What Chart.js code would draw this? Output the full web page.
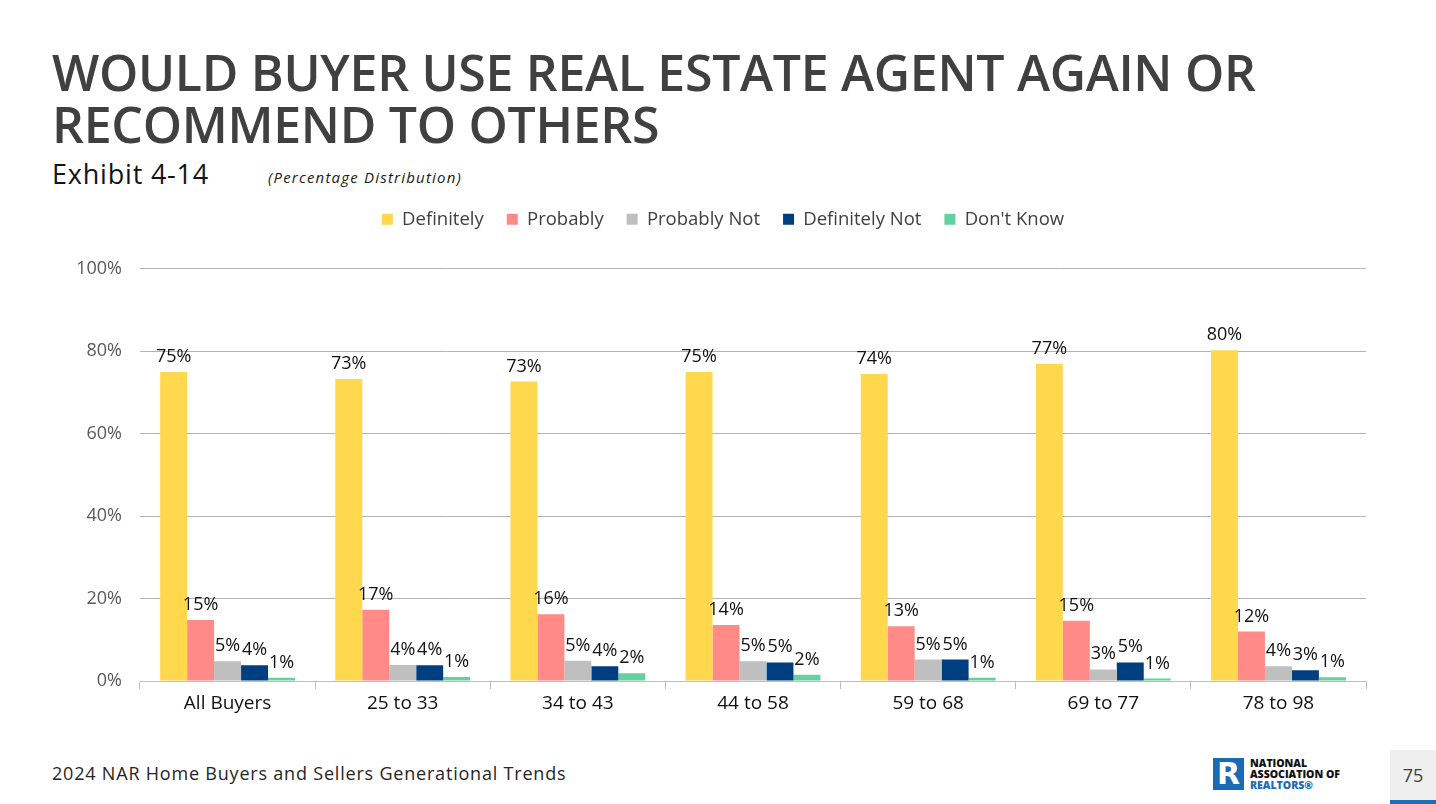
<!DOCTYPE html>
<html>
<head>
<meta charset="utf-8">
<script src="https://cdn.jsdelivr.net/npm/chart.js@4.4.1/dist/chart.umd.min.js"></script>
<style>
  html, body { margin: 0; padding: 0; background: #fff; }
  body { width: 1436px; height: 804px; position: relative; overflow: hidden; font-family: "Open Sans", "DejaVu Sans", sans-serif; }
  #title { position: absolute; left: 52px; top: 46px; font-size: 50px; font-weight: 600; color: #404040; line-height: 52px; letter-spacing: -0.3px; white-space: nowrap; }
  #exhibit { position: absolute; left: 52px; top: 155px; font-size: 27px; color: #141414; letter-spacing: 0.8px; white-space: nowrap; }
  #sub { position: absolute; left: 268px; top: 167px; font-size: 15px; font-style: italic; color: #1a1a1a; letter-spacing: 1.2px; white-space: nowrap; }
  #chartWrap { position: absolute; left: 0; top: 187px; width: 1436px; height: 543px; }
  #footer { position: absolute; left: 52px; top: 761px; font-size: 18px; color: #262626; letter-spacing: 0.8px; white-space: nowrap; }
  #pageBox { position: absolute; left: 1390px; top: 750px; width: 46px; height: 54px; background: #efefef; }
  #pageNum { position: absolute; left: 0; width: 46px; top: 13px; text-align: center; font-size: 18px; color: #404040; }
  #pageBar { position: absolute; left: 0; bottom: 0; width: 46px; height: 4px; background: #1f6fb8; }
  #logo { position: absolute; left: 1213px; top: 758px; width: 31px; height: 32px; background: #1a6bb6; color: #fff; font-weight: 700; font-size: 30px; line-height: 32px; text-align: center; font-family: "DejaVu Sans", sans-serif; }
  #logoText { position: absolute; left: 1250px; top: 758px; font-size: 10.5px; font-weight: 800; line-height: 11px; color: #111; font-family: "Open Sans", sans-serif; }
  #logoText span { color: #1a6bb6; }
</style>
</head>
<body>
<div id="title">WOULD BUYER USE REAL ESTATE AGENT AGAIN OR<br>RECOMMEND TO OTHERS</div>
<div id="exhibit">Exhibit 4-14</div>
<div id="sub">(Percentage Distribution)</div>
<div id="chartWrap"><canvas id="c"></canvas></div>
<div id="footer">2024 NAR Home Buyers and Sellers Generational Trends</div>
<div id="logo">R</div>
<div id="logoText">NATIONAL<br>ASSOCIATION OF<br><span>REALTORS®</span></div>
<div id="pageBox"><div id="pageNum">75</div><div id="pageBar"></div></div>
<script>
const categories = ["All Buyers", "25 to 33", "34 to 43", "44 to 58", "59 to 68", "69 to 77", "78 to 98"];
const seriesNames = ["Definitely", "Probably", "Probably Not", "Definitely Not", "Don't Know"];
const definitely = [74.9, 73.2, 72.6, 74.9, 74.4, 76.9, 80.2];
const probably = [14.8, 17.3, 16.2, 13.6, 13.3, 14.6, 12.0];
const probablyNot = [4.8, 3.9, 4.9, 4.8, 5.2, 2.8, 3.6];
const definitelyNot = [3.8, 3.8, 3.6, 4.5, 5.2, 4.5, 2.6];
const dontKnow = [0.8, 1.0, 1.9, 1.5, 0.8, 0.6, 0.9];
const yTicks = [0, 20, 40, 60, 80, 100];
const colors = ["#FFD84D", "#FF8A87", "#BFBFBF", "#003F7F", "#63D29E"];

const seriesValues = [definitely, probably, probablyNot, definitelyNot, dontKnow];

const labelPlugin = {
  id: 'barLabels',
  afterDatasetsDraw(chart) {
    const ctx = chart.ctx;
    ctx.save();
    ctx.font = '500 18px "Open Sans", sans-serif';
    ctx.fillStyle = '#111';
    ctx.textAlign = 'center';
    ctx.textBaseline = 'alphabetic';
    chart.data.datasets.forEach((ds, i) => {
      const meta = chart.getDatasetMeta(i);
      meta.data.forEach((bar, j) => {
        ctx.fillText(Math.round(ds.data[j]) + '%', bar.x, bar.y - 10);
      });
    });
    ctx.restore();
  }
};

const legendGap = {
  id: 'legendGap',
  beforeInit(chart) {
    const fit = chart.legend.fit;
    chart.legend.fit = function () {
      fit.call(this);
      this.height += 30;
    };
  },
  afterLayout(chart) {
    chart.legend.left += 80;
  }
};

new Chart(document.getElementById('c'), {
  type: 'bar',
  data: {
    labels: categories,
    datasets: seriesNames.map((n, i) => ({
      label: n,
      data: seriesValues[i],
      backgroundColor: colors[i],
      borderWidth: 0,
      categoryPercentage: 0.77,
      barPercentage: 1.0
    }))
  },
  options: {
    responsive: true,
    maintainAspectRatio: false,
    animation: false,
    layout: { padding: { left: 0, right: 70, top: 0, bottom: 0 } },
    plugins: {
      legend: {
        position: 'top',
        labels: {
          boxWidth: 11, boxHeight: 11, padding: 23,
          color: '#404040',
          font: { size: 18.5, family: '"Open Sans", sans-serif' }
        }
      },
      tooltip: { enabled: false }
    },
    scales: {
      x: {
        grid: { display: true, drawOnChartArea: false, offset: true, tickLength: 8, color: '#bfbfbf' },
        border: { color: '#bfbfbf', width: 1 },
        ticks: { color: '#111', font: { size: 19, weight: '500', family: '"Open Sans", sans-serif' }, padding: 3 },
        afterFit(scale) { scale.height = 49; }
      },
      y: {
        min: 0, max: 100,
        afterBuildTicks(scale) { scale.ticks = yTicks.map(v => ({ value: v })); },
        grid: { color: '#b3b3b3', drawTicks: false },
        border: { display: false },
        ticks: { color: '#595959', font: { size: 18, family: '"Open Sans", sans-serif' }, padding: 18, callback: v => v + '%' },
        afterFit(scale) { scale.width = 140; }
      }
    }
  },
  plugins: [labelPlugin, legendGap]
});
</script>
</body>
</html>
